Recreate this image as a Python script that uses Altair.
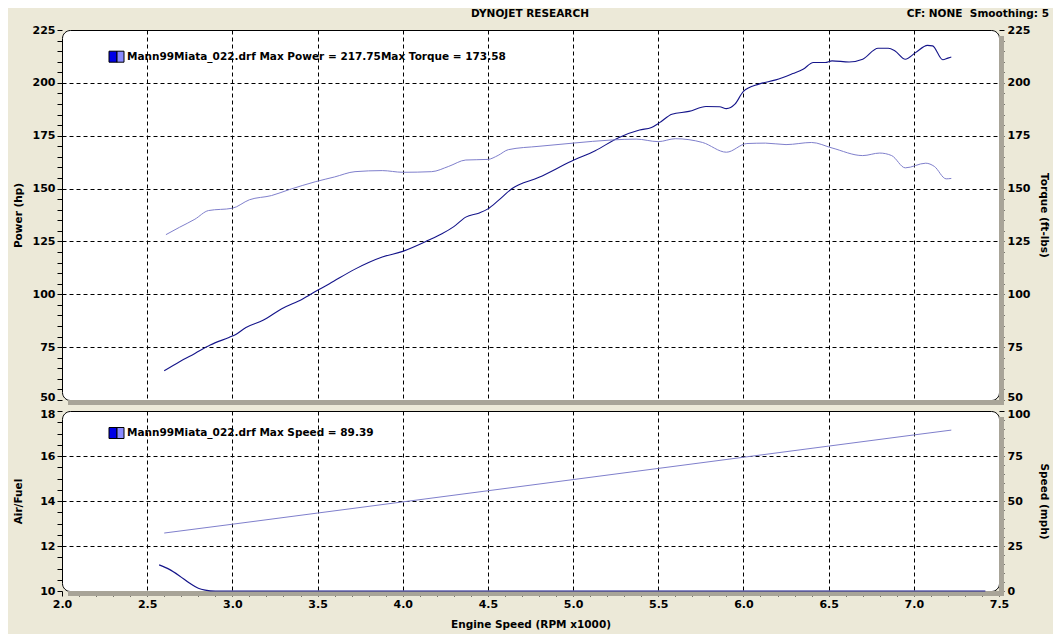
import altair as alt
import pandas as pd

# ---------------- data ----------------
power_rpm = [2.60, 2.69, 2.78, 2.87, 2.98, 3.02, 3.08, 3.18, 3.29, 3.41,
             3.50, 3.57, 3.72, 3.88, 4.00, 4.15, 4.23, 4.30, 4.37, 4.45,
             4.50, 4.56, 4.64, 4.80, 4.99, 5.13, 5.27, 5.39, 5.46, 5.51,
             5.58, 5.68, 5.78, 5.86, 5.90, 5.95, 6.00, 6.09, 6.19, 6.29,
             6.35, 6.41, 6.48, 6.52, 6.62, 6.70, 6.79, 6.85, 6.89, 6.95,
             7.01, 7.08, 7.11, 7.17, 7.20, 7.22]
power_hp = [63.8, 68.1, 72.0, 76.0, 79.6, 81.0, 84.3, 87.7, 93.2, 97.7,
            101.9, 105.0, 111.9, 117.6, 120.3, 125.5, 128.6, 132.0, 136.5, 138.5,
            140.4, 144.3, 149.9, 155.3, 162.9, 167.9, 174.2, 177.7, 178.9, 181.3,
            185.2, 186.5, 188.8, 188.7, 187.8, 189.9, 196.0, 199.4, 201.4, 204.4,
            206.4, 209.6, 209.6, 210.4, 209.9, 211.2, 216.4, 216.4, 215.1, 211.2,
            214.3, 217.75, 217.5, 210.9, 211.7, 212.2]

torque_rpm = [2.61, 2.69, 2.78, 2.86, 3.00, 3.10, 3.23, 3.33, 3.49, 3.60,
              3.72, 3.88, 4.00, 4.17, 4.27, 4.37, 4.50, 4.56, 4.62, 4.80,
              5.00, 5.23, 5.37, 5.50, 5.60, 5.76, 5.90, 6.02, 6.13, 6.25,
              6.40, 6.52, 6.70, 6.80, 6.87, 6.95, 7.07, 7.12, 7.19, 7.22]
torque_ftlb = [128.2, 131.7, 135.5, 139.6, 140.7, 144.7, 146.7, 149.4, 153.3, 155.5,
               158.0, 158.5, 157.7, 158.0, 160.5, 163.5, 163.8, 165.7, 168.4, 170.0,
               171.5, 173.0, 173.4, 172.2, 173.58, 171.8, 167.2, 171.3, 171.5, 170.8,
               171.8, 169.2, 165.6, 166.8, 165.6, 159.8, 162.0, 160.5, 154.6, 154.8]

speed_rpm = [2.60, 3.00, 3.50, 4.00, 4.50, 5.00, 5.50, 6.00, 6.50, 7.00, 7.22]
speed_mph = [32.2, 37.1, 43.3, 49.5, 55.7, 61.9, 68.1, 74.3, 80.5, 86.7, 89.39]

afr_rpm = [2.57, 2.63, 2.69, 2.75, 2.80, 2.84, 2.90, 7.42]
afr_val = [11.16, 10.96, 10.67, 10.34, 10.12, 10.04, 10.0, 10.0]

# axis tick values
x_ticks = [round(2.0 + 0.1 * i, 1) for i in range(56)]
hp_ticks = list(range(50, 230, 5))
afr_ticks = [10 + 0.5 * i for i in range(17)]
mph_ticks = list(range(0, 105, 5))

title_text = "DYNOJET RESEARCH"
cf_text = "CF: NONE\u00a0\u00a0Smoothing: 5"
legend_top = "Mann99Miata_022.drf Max Power = 217.75Max Torque = 173.58"
legend_bottom = "Mann99Miata_022.drf Max Speed = 89.39"

# ---------------- styling ----------------
W, H1, H2 = 937, 370, 180
FONT = "DejaVu Sans"
NAVY = "#14148a"
LIGHT = "#7f7fcc"
BG = "#ECE9D8"
SHADOW = "#A8A498"

power_df = pd.DataFrame({"rpm": power_rpm, "hp": power_hp})
torque_df = pd.DataFrame({"rpm": torque_rpm, "tq": torque_ftlb})
speed_df = pd.DataFrame({"rpm": speed_rpm, "mph": speed_mph})
afr_df = pd.DataFrame({"rpm": afr_rpm, "afr": afr_val})
dummy = pd.DataFrame({"d": [0]})

xscale = alt.Scale(domain=[2.0, 7.5], nice=False)

half_test = "abs(datum.value*2 - round(datum.value*2)) < 0.001"

common = dict(domain=False, tickColor="black", tickWidth=1,
              labelOverlap=False, labelFont=FONT, labelFontSize=11,
              labelFontWeight="bold", labelColor="black",
              titleFont=FONT, titleFontSize=10.5, titleFontWeight="bold",
              titleColor="black", gridColor="black", gridDash=[4, 3], gridWidth=1)


def shift(test, amount):
    return {"condition": {"test": test, "value": amount}, "value": 0}


x_axis_top = alt.Axis(values=x_ticks, labels=False, ticks=False, title=None,
                      grid=True,
                      gridOpacity={"condition": {"test": half_test + " && datum.value > 2.01 && datum.value < 7.49", "value": 1}, "value": 0},
                      **common)
x_axis_bottom = alt.Axis(values=x_ticks, title="Engine Speed (RPM x1000)",
                         labelExpr=half_test + " ? format(datum.value, '.1f') : ''",
                         labelPadding=2, labelFlush=False, tickSize=5,
                         minExtent=20, maxExtent=20, titlePadding=8,
                         grid=True,
                         gridOpacity={"condition": {"test": half_test + " && datum.value > 2.01 && datum.value < 7.49", "value": 1}, "value": 0},
                         **common)

hp_axis = alt.Axis(orient="left", values=hp_ticks, title="Power (hp)",
                   labelExpr="datum.value % 25 == 0 ? datum.label : ''",
                   labelOffset=shift("datum.value == 50", -3),
                   labelPadding=2, tickSize=5, minExtent=30, maxExtent=30, titlePadding=9,
                   grid=True,
                   gridOpacity={"condition": {"test": "datum.value % 25 == 0 && datum.value > 50 && datum.value < 225", "value": 1}, "value": 0},
                   **common)
tq_axis = alt.Axis(orient="right", values=hp_ticks, title="Torque (ft-lbs)",
                   labelExpr="datum.value % 25 == 0 ? datum.label : ''",
                   labelOffset=shift("datum.value == 50", -3),
                   labelPadding=3, tickSize=5, minExtent=30, maxExtent=30, titlePadding=9,
                   grid=False, **common)
afr_axis = alt.Axis(orient="left", values=afr_ticks, title="Air/Fuel",
                    labelExpr="abs(datum.value/2 - round(datum.value/2)) < 0.001 ? format(datum.value, 'd') : ''",
                    labelOffset=shift("datum.value == 18", 3),
                    labelPadding=2, tickSize=5, minExtent=30, maxExtent=30, titlePadding=9,
                    grid=True,
                    gridOpacity={"condition": {"test": "abs(datum.value/2 - round(datum.value/2)) < 0.001 && datum.value > 10 && datum.value < 18", "value": 1}, "value": 0},
                    **common)
mph_axis = alt.Axis(orient="right", values=mph_ticks, title="Speed (mph)",
                    labelExpr="datum.value % 25 == 0 ? datum.label : ''",
                    labelOffset=shift("datum.value == 100", 3),
                    labelPadding=3, tickSize=5, minExtent=30, maxExtent=30, titlePadding=9,
                    grid=False, **common)


def shadow_layers(h):
    base = alt.Chart(dummy)
    right = base.mark_rect(color=SHADOW).encode(
        x=alt.value(W), x2=alt.value(W + 5), y=alt.value(6), y2=alt.value(h + 5))
    bottom = base.mark_rect(color=SHADOW).encode(
        x=alt.value(6), x2=alt.value(W + 5), y=alt.value(h), y2=alt.value(h + 5))
    return [right, bottom]


def legend_layers(text, yc):
    base = alt.Chart(dummy)
    dark = base.mark_rect(color="#0000E6", stroke="black", strokeWidth=1).encode(
        x=alt.value(47), x2=alt.value(55), y=alt.value(yc - 5.5), y2=alt.value(yc + 5.5))
    light = base.mark_rect(color="#8A8AFF", stroke="black", strokeWidth=1).encode(
        x=alt.value(55), x2=alt.value(62), y=alt.value(yc - 5.5), y2=alt.value(yc + 5.5))
    txt = base.mark_text(align="left", baseline="middle", font=FONT, fontSize=10.5,
                         fontWeight="bold", color="black", text=text).encode(
        x=alt.value(65), y=alt.value(yc))
    return [dark, light, txt]


# ---------------- top panel ----------------
power_line = alt.Chart(power_df).mark_line(color=NAVY, strokeWidth=1.1, interpolate="monotone").encode(
    x=alt.X("rpm:Q", scale=xscale, axis=x_axis_top),
    y=alt.Y("hp:Q", scale=alt.Scale(domain=[50, 225], nice=False, zero=False), axis=hp_axis))
torque_line = alt.Chart(torque_df).mark_line(color=LIGHT, strokeWidth=1.0, interpolate="monotone").encode(
    x=alt.X("rpm:Q", scale=xscale, axis=x_axis_top),
    y=alt.Y("tq:Q", scale=alt.Scale(domain=[50, 225], nice=False, zero=False), axis=tq_axis))

hdr = alt.Chart(dummy)
title_mark = hdr.mark_text(align="center", baseline="middle", font=FONT, fontSize=10.5,
                           fontWeight="bold", color="black", text=title_text).encode(
    x=alt.value(468), y=alt.value(-16))
cf_mark = hdr.mark_text(align="right", baseline="middle", font=FONT, fontSize=10.5,
                        fontWeight="bold", color="black", text=cf_text).encode(
    x=alt.value(987), y=alt.value(-16))

top = alt.layer(*shadow_layers(H1), power_line, torque_line,
                *legend_layers(legend_top, 26.7), title_mark, cf_mark).resolve_scale(
    y="independent").properties(width=W, height=H1)

# ---------------- bottom panel ----------------
afr_line = alt.Chart(afr_df).mark_line(color=NAVY, strokeWidth=1.2, interpolate="monotone").encode(
    x=alt.X("rpm:Q", scale=xscale, axis=x_axis_bottom),
    y=alt.Y("afr:Q", scale=alt.Scale(domain=[10, 18], nice=False, zero=False), axis=afr_axis))
speed_line = alt.Chart(speed_df).mark_line(color=LIGHT, strokeWidth=1.0).encode(
    x=alt.X("rpm:Q", scale=xscale, axis=x_axis_bottom),
    y=alt.Y("mph:Q", scale=alt.Scale(domain=[0, 100], nice=False, zero=False), axis=mph_axis))

bottom = alt.layer(*shadow_layers(H2), speed_line, afr_line,
                   *legend_layers(legend_bottom, 22)).resolve_scale(
    y="independent").properties(width=W, height=H2)

chart = alt.vconcat(top, bottom, spacing=11, bounds="flush").properties(
    padding={"left": 4, "top": 0, "right": 3, "bottom": 4},
    background=BG,
).configure_view(fill="white", stroke="black", strokeWidth=1, cornerRadius=8)

chart.save("out.html", embed_options={"renderer": "svg", "actions": False})
